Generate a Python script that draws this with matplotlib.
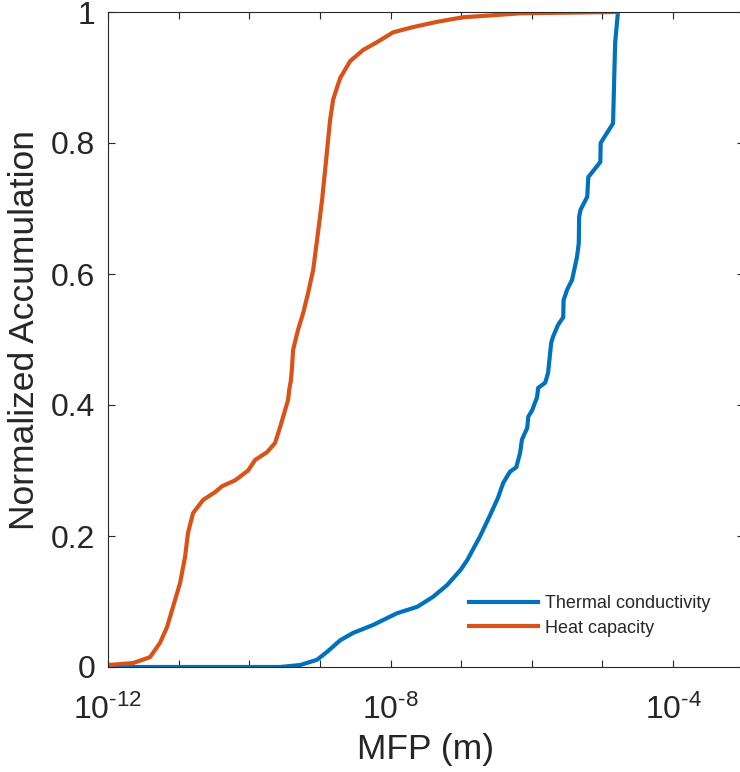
import numpy as np
import matplotlib
matplotlib.use("Agg")
import matplotlib.pyplot as plt

# log10(MFP) and normalized accumulation
hc_logx = [-12.0, -11.646, -11.405, -11.263, -11.164, -11.079, -10.98, -10.909,
           -10.867, -10.796, -10.654, -10.484, -10.385, -10.20, -10.017, -9.918,
           -9.748, -9.635, -9.564, -9.493, -9.45, -9.435, -9.41, -9.394, -9.38,
           -9.309, -9.238, -9.167, -9.096, -9.04, -8.969, -8.898, -8.856, -8.813,
           -8.76, -8.714, -8.572, -8.388, -8.19, -7.963, -7.68, -7.34, -6.972,
           -6.547, -6.164, -4.79]
hc_acc = [0.003, 0.006, 0.015, 0.037, 0.061, 0.092, 0.128, 0.168,
          0.205, 0.235, 0.255, 0.267, 0.276, 0.285, 0.30, 0.316,
          0.328, 0.342, 0.366, 0.392, 0.408, 0.423, 0.438, 0.458, 0.484,
          0.515, 0.540, 0.571, 0.606, 0.652, 0.713, 0.789, 0.835, 0.866,
          0.884, 0.899, 0.925, 0.942, 0.954, 0.969, 0.977, 0.985, 0.992,
          0.995, 0.998, 1.0]

tc_logx = [-12.0, -9.564, -9.28, -9.04, -8.90, -8.71, -8.53, -8.25, -7.91, -7.62,
           -7.40, -7.20, -7.01, -6.915, -6.80, -6.73, -6.59, -6.48, -6.405, -6.31,
           -6.22, -6.165, -6.14, -6.065, -6.05, -5.995, -5.925, -5.91, -5.81, -5.77,
           -5.725, -5.70, -5.63, -5.555, -5.55, -5.50, -5.43, -5.36, -5.335, -5.33,
           -5.31, -5.215, -5.20, -5.03, -5.025, -4.85, -4.82, -4.78]
tc_acc = [0.0, 0.0, 0.003, 0.011, 0.023, 0.041, 0.052, 0.064, 0.082, 0.092,
          0.107, 0.125, 0.148, 0.163, 0.186, 0.20, 0.232, 0.258, 0.281, 0.298,
          0.305, 0.327, 0.347, 0.365, 0.382, 0.392, 0.412, 0.426, 0.434, 0.449,
          0.495, 0.504, 0.522, 0.534, 0.56, 0.576, 0.591, 0.626, 0.647, 0.687,
          0.698, 0.718, 0.748, 0.771, 0.80, 0.83, 0.953, 1.0]

xtick_exp = [-12, -8, -4]
ytick_vals = [0, 0.2, 0.4, 0.6, 0.8, 1]
ytick_labels = ["0", "0.2", "0.4", "0.6", "0.8", "1"]
series_names = ["Thermal conductivity", "Heat capacity"]

plt.rcParams["font.family"] = ["Liberation Sans", "DejaVu Sans"]
plt.rcParams["mathtext.fontset"] = "custom"
plt.rcParams["mathtext.rm"] = "Liberation Sans"
plt.rcParams["axes.unicode_minus"] = False

TXT = "#262626"
W, H = 740, 772
fig = plt.figure(figsize=(W / 100, H / 100), dpi=100)
x0, x1, y0, y1 = 108, 743.7, 12, 667
ax = fig.add_axes([x0 / W, 1 - y1 / H, (x1 - x0) / W, (y1 - y0) / H])

ax.plot(10.0 ** np.array(tc_logx), tc_acc, color="#0072BD", lw=3, label=series_names[0])
ax.plot(10.0 ** np.array(hc_logx), hc_acc, color="#D95319", lw=3, label=series_names[1])

ax.set_xscale("log")
ax.set_xlim(1e-12, 1e-3)
ax.set_ylim(0, 1)
ax.set_xticks([10.0 ** e for e in range(-12, -2)])
ax.set_xticklabels(["$\\mathregular{10^{\u2010%d}}$" % -e if e in xtick_exp else ""
                    for e in range(-12, -2)])
ax.xaxis.set_minor_locator(matplotlib.ticker.NullLocator())
ax.set_yticks(ytick_vals)
ax.set_yticklabels(ytick_labels)
ax.tick_params(direction="in", length=5, width=0.8, top=True, right=True,
               labelsize=23, colors=TXT)
ax.tick_params(axis="x", pad=20)
ax.tick_params(axis="y", pad=9)
for s in ax.spines.values():
    s.set_color(TXT)
    s.set_linewidth(0.8)

ax.set_xlabel("MFP (m)", fontsize=25.5, color=TXT, labelpad=5)
ax.set_ylabel("Normalized Accumulation", fontsize=25.5, color=TXT)
ax.yaxis.set_label_coords(-(108 - 41) / (x1 - x0), 0.515)

leg = ax.legend(loc="upper left", bbox_to_anchor=(469 / W, 1 - 595 / H),
                bbox_transform=fig.transFigure, frameon=False, fontsize=13,
                handlelength=3.8, handletextpad=0.4, labelspacing=0.42,
                borderpad=0, borderaxespad=0)
for t in leg.get_texts():
    t.set_color(TXT)

fig.savefig("out.png", dpi=100)
